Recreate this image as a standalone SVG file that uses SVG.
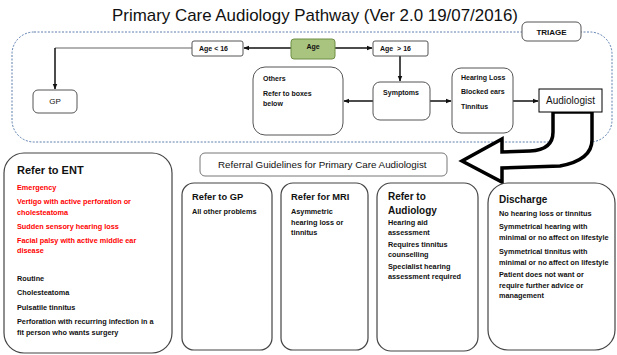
<svg xmlns="http://www.w3.org/2000/svg" width="617" height="355" viewBox="0 0 617 355">
<style>
text{font-family:"Liberation Sans",Arial,sans-serif;fill:#111}
.t{font-size:7px;font-weight:bold}
.b{font-size:7.3px;font-weight:bold}
.h{font-size:10px;font-weight:bold}
.red{fill:#ff0000}
.box{fill:#fff;stroke:#444;stroke-width:1.2}
.sbox{fill:#fff;stroke:#555;stroke-width:1}
.ln{stroke:#111;stroke-width:1.5;fill:none}
</style>
<defs>
<marker id="ah" viewBox="0 0 10 10" refX="9" refY="5" markerWidth="4" markerHeight="4" orient="auto">
<path d="M0,1 L10,5 L0,9 Z" fill="#111"/>
</marker>
</defs>
<rect width="617" height="355" fill="#fff"/>
<text x="112" y="21" font-size="17" textLength="406" lengthAdjust="spacingAndGlyphs">Primary Care Audiology Pathway (Ver 2.0 19/07/2016)</text>
<rect x="12" y="32" width="600" height="110" rx="22" fill="none" stroke="#4a6fa5" stroke-width="0.9" stroke-dasharray="2,1.5"/>
<g id="triage"><rect x="522" y="22" width="59" height="19" rx="5" class="sbox"/><text x="551.5" y="34.5" text-anchor="middle" font-size="8" font-weight="bold">TRIAGE</text></g>
<g id="connectors">
<path d="M192,48 H55" stroke="#999" stroke-width="1.6" fill="none"/>
<path d="M55,48 V89" class="ln" marker-end="url(#ah)"/>
<path d="M291,48 H244" class="ln" marker-end="url(#ah)"/>
<path d="M335,48 H372" class="ln" marker-end="url(#ah)"/>
<path d="M400,56 V81" class="ln" marker-end="url(#ah)"/>
<path d="M373,101 H344" class="ln" marker-end="url(#ah)"/>
<path d="M430,101 H451" class="ln" marker-end="url(#ah)"/>
<path d="M513,101 H538" class="ln" marker-end="url(#ah)"/>
<path d="M553,112 L553,132 Q553,150 530,151 L502,152 L502,139 L462,161 L502,182 L502,168 L560,166 Q592,160 592,140 L592,112 Z" fill="#fff" stroke="#000" stroke-width="3.5" stroke-linejoin="miter"/>
</g>
<g id="age"><rect x="291" y="39" width="44" height="20" rx="3" fill="#a9c47f" stroke="#6f8f45" stroke-width="1"/><text x="313" y="49" text-anchor="middle" class="t">Age</text></g>
<g id="age-lt16"><rect x="192" y="41" width="51" height="15" rx="2" class="sbox"/><text x="199" y="50.5" class="t">Age &lt; 16</text></g>
<g id="age-gt16"><rect x="373" y="41" width="55" height="15" rx="2" class="sbox"/><text x="380" y="50.5" class="t" xml:space="preserve">Age  &gt; 16</text></g>
<g id="gp"><rect x="33" y="90" width="44" height="23" rx="5" class="sbox"/><text x="55" y="104" text-anchor="middle" font-size="8">GP</text></g>
<g id="others"><rect x="253" y="67" width="90" height="68" rx="12" class="sbox"/><text x="263" y="81" class="t">Others</text><text x="263" y="96" class="t">Refer to boxes</text><text x="263" y="106" class="t">below</text></g>
<g id="symptoms"><rect x="373" y="82" width="57" height="38" rx="7" class="sbox"/><text x="401" y="95" text-anchor="middle" class="t">Symptoms</text></g>
<g id="hearing"><rect x="452" y="68" width="61" height="65" rx="9" class="sbox"/><text x="461" y="80" class="t">Hearing Loss</text><text x="461" y="94" class="t">Blocked ears</text><text x="461" y="109" class="t">Tinnitus</text></g>
<g id="audiologist"><rect x="539" y="89" width="63" height="23" fill="#fff" stroke="#000" stroke-width="1"/><text x="570.5" y="104" text-anchor="middle" font-size="10">Audiologist</text></g>
<g id="guidelines"><rect x="200" y="153" width="247" height="23" rx="5" fill="#fff" stroke="#777" stroke-width="1"/><text x="218" y="168" font-size="9.8">Referral Guidelines for Primary Care Audiologist</text></g>
<g id="ent"><rect x="4" y="153" width="168" height="200" rx="20" class="box"/>
<text x="17" y="174" font-size="11" font-weight="bold">Refer to ENT</text>
<text x="17" y="190" class="b red">Emergency</text>
<text x="17" y="204" class="b red">Vertigo with active perforation or</text>
<text x="17" y="214.5" class="b red">cholesteatoma</text>
<text x="17" y="229" class="b red">Sudden sensory hearing loss</text>
<text x="17" y="243" class="b red">Facial palsy with active middle ear</text>
<text x="17" y="253" class="b red">disease</text>
<text x="17" y="281" class="b">Routine</text>
<text x="17" y="295" class="b">Cholesteatoma</text>
<text x="17" y="310" class="b">Pulsatile tinnitus</text>
<text x="17" y="324" class="b">Perforation with recurring infection in a</text>
<text x="17" y="334.5" class="b">fit person who wants surgery</text>
</g>
<g id="refer-gp"><rect x="182" y="183" width="90" height="167" rx="12" class="box"/><text x="192" y="200" font-size="9.3" font-weight="bold">Refer to GP</text><text x="192" y="214" class="b">All other problems</text></g>
<g id="refer-mri"><rect x="281" y="183" width="87" height="167" rx="12" class="box"/><text x="291" y="200" font-size="9.3" font-weight="bold">Refer for MRI</text><text x="291" y="214" class="b">Asymmetric</text><text x="291" y="225" class="b">hearing loss or</text><text x="291" y="235" class="b">tinnitus</text></g>
<g id="refer-audiology"><rect x="377" y="183" width="101" height="168" rx="14" class="box"/><text x="388" y="200" font-size="10" font-weight="bold">Refer to</text><text x="388" y="213.5" font-size="10" font-weight="bold">Audiology</text>
<text x="388" y="225" class="b">Hearing aid</text><text x="388" y="234.5" class="b">assessment</text>
<text x="388" y="247" class="b">Requires tinnitus</text><text x="388" y="256.5" class="b">counselling</text>
<text x="388" y="269" class="b">Specialist hearing</text><text x="388" y="278.5" class="b">assessment required</text></g>
<g id="discharge"><rect x="488" y="183" width="127" height="167" rx="20" class="box"/><text x="499" y="203" font-size="10" font-weight="bold">Discharge</text>
<text x="499" y="216" class="b">No hearing loss or tinnitus</text>
<text x="499" y="229" class="b">Symmetrical hearing with</text>
<text x="499" y="239.5" class="b">minimal or no affect on lifestyle</text>
<text x="499" y="254" class="b">Symmetrical tinnitus with</text>
<text x="499" y="264.5" class="b">minimal or no affect on lifestyle</text>
<text x="499" y="277" class="b">Patient does not want or</text>
<text x="499" y="288" class="b">require further advice or</text>
<text x="499" y="298" class="b">management</text></g>
</svg>
